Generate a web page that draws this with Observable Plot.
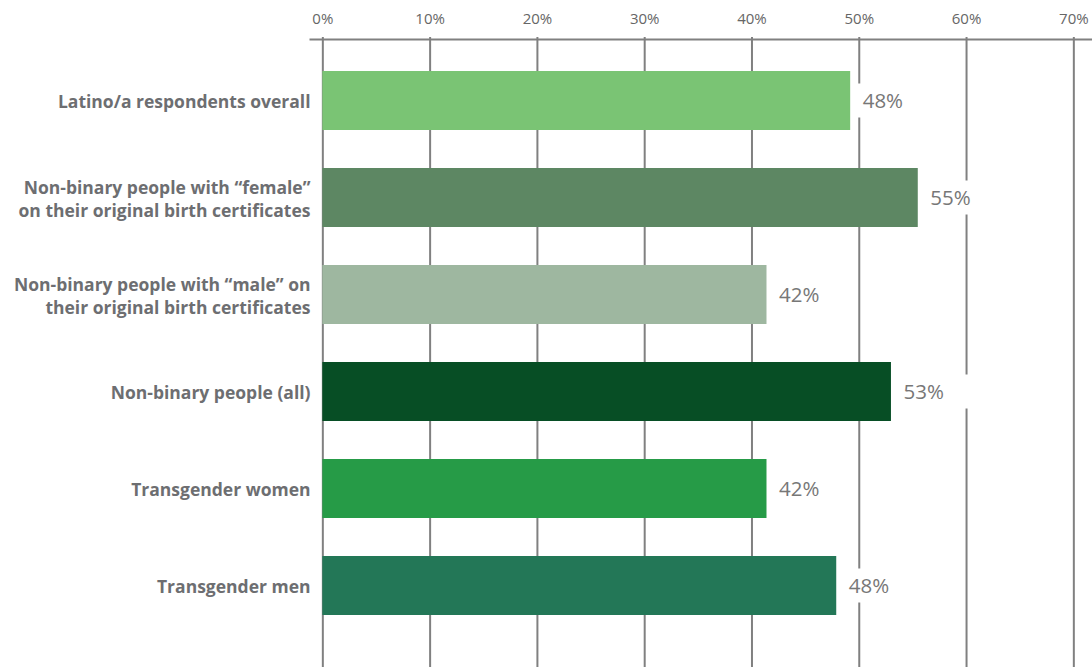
<!DOCTYPE html>
<html><head><meta charset="utf-8">
<script src="https://cdn.jsdelivr.net/npm/d3@7"></script>
<script src="https://cdn.jsdelivr.net/npm/@observablehq/plot@0.6"></script>
<style>body{margin:0;background:#fff} #chart svg{display:block}</style>
</head><body><div id="chart"></div>
<script>
const categories = [
  "Latino/a respondents overall",
  "Non-binary people with “female”\non their original birth certificates",
  "Non-binary people with “male” on\ntheir original birth certificates",
  "Non-binary people (all)",
  "Transgender women",
  "Transgender men"
];
const values = [49.2, 55.5, 41.4, 53.0, 41.4, 47.9];
const valueLabels = ["48%", "55%", "42%", "53%", "42%", "48%"];
const colors = ["#7AC474", "#5D8763", "#9EB7A0", "#074E25", "#269B47", "#237757"];
const xTicks = [0, 10, 20, 30, 40, 50, 60, 70];

const data = categories.map((c, i) => ({category: c, value: values[i], label: valueLabels[i], color: colors[i]}));

const chart = Plot.plot({
  width: 1092, height: 667,
  marginTop: 39, marginBottom: 0, marginLeft: 310, marginRight: 0,
  x: {domain: [-1.15, 71.74], axis: null, label: null},
  y: {domain: categories, range: [51, 635], paddingInner: 0.395, paddingOuter: 0.1975, axis: null},
  color: {type: "identity"},
  style: {fontFamily: "'Open Sans', sans-serif", background: "#fff"},
  marks: [
    Plot.ruleX(xTicks, {stroke: "#808080", strokeWidth: 2}),
    Plot.frame({anchor: "top", stroke: "#808080", strokeWidth: 2}),
    Plot.axisX({ticks: xTicks, anchor: "top", label: null, tickSize: 3, tickPadding: 13, tickFormat: d => d + "%",
      stroke: "#808080", strokeWidth: 2, fill: "#666", fontSize: 15, fontWeight: 400}),
    Plot.barX(data, {x: "value", y: "category", fill: "color"}),
    Plot.barX(data, {x1: "value", x2: "value", y: "category", fill: "white",
      insetLeft: 6, insetRight: -80, insetTop: 12.5, insetBottom: 12.5}),
    Plot.text(data, {x: "value", y: "category", text: "label", textAnchor: "start", dx: 12,
      fill: "#777", fontSize: 20.5, fontWeight: 400}),
    Plot.text(data, {y: "category", text: "category", frameAnchor: "left", textAnchor: "end", dx: 0,
      fill: "#6d6e71", fontSize: 17.5, fontWeight: 700, lineHeight: 1.33})
  ]
});
document.getElementById("chart").append(chart);
</script>
</body></html>
